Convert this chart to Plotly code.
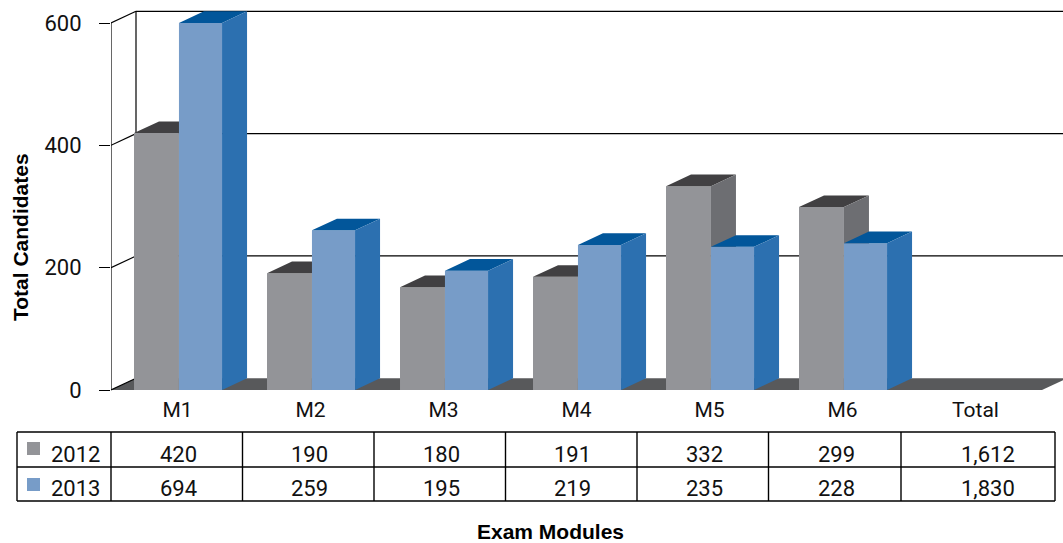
import plotly.graph_objects as go

# ---------------- data ----------------
categories = ["M1", "M2", "M3", "M4", "M5", "M6", "Total"]
series_names = ["2012", "2013"]
# values printed in the data table
table_2012 = [420, 190, 180, 191, 332, 299, 1612]
table_2013 = [694, 259, 195, 219, 235, 228, 1830]
# bar heights as drawn in the chart (axis capped at 600, no bars for Total)
bars_2012 = [420, 191, 168, 185, 333, 299, None]
bars_2013 = [600, 261, 195, 237, 234, 240, None]
y_ticks = [0, 200, 400, 600]

# ---------------- style ----------------
W, H = 1063, 543
PX_L, PX_R = 111, 1063         # plot area horizontal (px)
PX_T, PX_B = 5, 395            # plot area vertical (px)
CAT_PX = 133                   # px per category
Y0_PX, Y600_PX = 390, 23
S = (Y0_PX - Y600_PX) / 600.0  # px per unit
DX = 25 / CAT_PX               # depth offset (x, data units)
DY = 11.7 / S                  # depth offset (y, data units)

GRAY = dict(front="#939498", top="#414042", side="#6d6e72")
BLUE = dict(front="#779cc8", top="#02569a", side="#2c70b0")
FLOOR = "#58595b"
FONT = "Roboto"
TXT = "#111111"

x_range = [0, (PX_R - PX_L) / CAT_PX]
y_range = [-(PX_B - Y0_PX) / S, (Y0_PX - PX_T) / S]

fig = go.Figure()


def poly_trace(polys, color, name):
    xs, ys = [], []
    for p in polys:
        for (a, b) in p:
            xs.append(a)
            ys.append(b)
        xs.append(p[0][0]); ys.append(p[0][1])
        xs.append(None); ys.append(None)
    return go.Scatter(x=xs, y=ys, mode="lines", fill="toself", fillcolor=color,
                      line=dict(width=0, color=color), hoverinfo="skip",
                      showlegend=False, name=name)


# floor
n = len(categories)
fig.add_trace(poly_trace([[(0, 0), (n, 0), (n + DX, DY), (DX, DY)]], FLOOR, "floor"))

# back wall lines: vertical, gridlines, and diagonal connectors
wall_x, wall_y = [], []
wall_x += [DX, DX, None]; wall_y += [DY, 600 + DY, None]
for t in y_ticks[1:]:
    wall_x += [DX, x_range[1], None]; wall_y += [t + DY, t + DY, None]
for t in y_ticks:
    wall_x += [0, DX, None]; wall_y += [t, t + DY, None]
# front axis line
wall_x += [0, 0, None]; wall_y += [0, 600, None]
fig.add_trace(go.Scatter(x=wall_x, y=wall_y, mode="lines",
                         line=dict(color="black", width=1.2),
                         hoverinfo="skip", showlegend=False))


def bar_faces(values, off0, off1):
    fronts, tops, sides = [], [], []
    for i, h in enumerate(values):
        if h is None:
            continue
        x0, x1 = i + off0, i + off1
        fronts.append([(x0, 0), (x1, 0), (x1, h), (x0, h)])
        tops.append([(x0, h), (x1, h), (x1 + DX, h + DY), (x0 + DX, h + DY)])
        sides.append([(x1, 0), (x1 + DX, DY), (x1 + DX, h + DY), (x1, h)])
    return fronts, tops, sides


for vals, (o0, o1), col, nm in [(bars_2012, (0.173, 0.511), GRAY, "2012"),
                                (bars_2013, (0.511, 0.835), BLUE, "2013")]:
    fr, tp, sd = bar_faces(vals, o0, o1)
    fig.add_trace(poly_trace(fr, col["front"], nm))
    fig.add_trace(poly_trace(tp, col["top"], nm))
    fig.add_trace(poly_trace(sd, col["side"], nm))

# ---------------- data table (lines + text in pixel layout) ----------------
col_edges = [17, 111, 242.5, 374, 505.5, 637, 768.5, 901, 1055]
row_edges = [432, 467, 501]
row_text_y = [454, 488]
val_x = [(col_edges[k + 1] + col_edges[k + 2]) / 2 + 1.5 for k in range(6)] + [988]


def px(x):
    return x / W


def py(y):
    return 1 - y / H


shapes = []
for y in row_edges:
    shapes.append(dict(type="line", xref="paper", yref="paper",
                       x0=px(col_edges[0]), x1=px(col_edges[-1]), y0=py(y), y1=py(y),
                       line=dict(color="black", width=1.4)))
for x in col_edges:
    shapes.append(dict(type="line", xref="paper", yref="paper",
                       x0=px(x), x1=px(x), y0=py(row_edges[0]), y1=py(row_edges[-1]),
                       line=dict(color="black", width=1.4)))
# legend keys in the row headers
for ry, c in zip([(442, 455), (478, 491)], [GRAY["front"], BLUE["front"]]):
    shapes.append(dict(type="rect", xref="paper", yref="paper",
                       x0=px(27), x1=px(40), y0=py(ry[1]), y1=py(ry[0]),
                       fillcolor=c, line=dict(width=0)))

annotations = []
for r, (name, vals) in enumerate(zip(series_names, [table_2012, table_2013])):
    annotations.append(dict(text=name, x=px(49), y=py(row_text_y[r]), xref="paper", yref="paper",
                            showarrow=False, xanchor="left", yanchor="middle",
                            font=dict(family=FONT, size=22, color=TXT)))
    for k, v in enumerate(vals):
        annotations.append(dict(text=f"{v:,}", x=px(val_x[k]), y=py(row_text_y[r]),
                                xref="paper", yref="paper", showarrow=False,
                                xanchor="center", yanchor="middle",
                                font=dict(family=FONT, size=22, color=TXT)))

annotations += [
    dict(text="<b>Total Candidates</b>", x=px(20), y=py(237), xref="paper", yref="paper",
         showarrow=False, textangle=-90, xanchor="center", yanchor="middle",
         font=dict(family="Liberation Sans", size=21, color="black")),
    dict(text="<b>Exam Modules</b>", x=px(550), y=py(531), xref="paper", yref="paper",
         showarrow=False, xanchor="center", yanchor="middle",
         font=dict(family="Liberation Sans", size=21, color="black")),
]

# ---------------- layout ----------------
fig.update_layout(
    width=W, height=H,
    margin=dict(l=0, r=0, t=0, b=0),
    paper_bgcolor="white", plot_bgcolor="white",
    showlegend=False,
    shapes=shapes,
    annotations=annotations,
    xaxis=dict(domain=[PX_L / W, 1], range=x_range, showgrid=False, zeroline=False,
               showline=False, ticks="", automargin=False,
               tickvals=[i + 0.5 for i in range(n)], ticktext=categories,
               tickfont=dict(family=FONT, size=21, color=TXT)),
    yaxis=dict(domain=[1 - PX_B / H, 1 - PX_T / H], range=y_range, showgrid=False,
               zeroline=False, showline=False, automargin=False,
               tickvals=y_ticks, ticktext=[str(t) for t in y_ticks],
               ticks="outside", ticklen=11, tickcolor="black", tickwidth=1.2,
               ticklabelstandoff=13,
               tickfont=dict(family=FONT, size=22, color=TXT)),
)

fig.write_html("out.html")
